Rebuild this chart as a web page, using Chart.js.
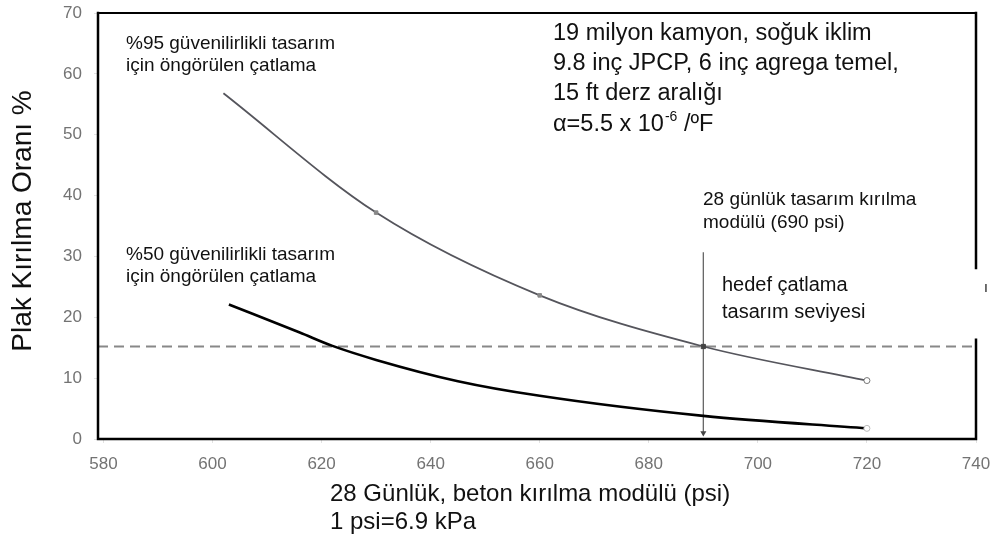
<!DOCTYPE html>
<html>
<head>
<meta charset="utf-8">
<script src="https://cdn.jsdelivr.net/npm/chart.js@4.4.1/dist/chart.umd.min.js"></script>
<style>
  html, body { margin: 0; padding: 0; background: #fff; }
  #chart { display: block; }
</style>
</head>
<body>
<canvas id="chart" width="1002" height="539"></canvas>
<script>
// modulus of rupture (psi) and predicted slab cracking (%)
const mor95 = [602, 630, 660, 690, 720]
const crack95 = [56.8, 37.2, 23.6, 15.2, 9.6]
const mor50 = [603, 616, 622, 630, 645, 660, 690, 720]
const crack50 = [22.1, 17.5, 15.3, 13.0, 9.5, 7.1, 3.8, 1.75]

const targetCrack = 15.2
const designMor = 690
const arrowTop = 30.7

const xTicks = [580, 600, 620, 640, 660, 680, 700, 720, 740]
const yTicks = [0, 10, 20, 30, 40, 50, 60, 70]

const FONT = '"Liberation Sans", Arial, sans-serif'

function pts(xs, ys) {
  return xs.map((x, i) => ({ x: x, y: ys[i] }))
}

// thick black frame round the plot, right side has a small break
const framePlugin = {
  id: 'frame',
  afterDatasetsDraw(chart) {
    const { ctx, chartArea: a, scales } = chart
    const gapTop = scales.y.getPixelForValue(28.1)
    const gapBottom = scales.y.getPixelForValue(16.3)
    ctx.save()
    ctx.strokeStyle = '#000'
    ctx.lineCap = 'square'
    ctx.lineWidth = 2
    ctx.beginPath()
    ctx.moveTo(a.left, a.top)
    ctx.lineTo(a.right, a.top)
    ctx.stroke()
    ctx.lineWidth = 2.5
    ctx.beginPath()
    ctx.moveTo(a.left, a.top)
    ctx.lineTo(a.left, a.bottom)
    ctx.lineTo(a.right, a.bottom)
    ctx.lineTo(a.right, gapBottom)
    ctx.moveTo(a.right, gapTop)
    ctx.lineTo(a.right, a.top)
    ctx.stroke()
    ctx.restore()
  }
}

// notes and axis titles
const notesPlugin = {
  id: 'notes',
  afterDraw(chart) {
    const ctx = chart.ctx
    ctx.save()
    ctx.fillStyle = '#111'
    ctx.textBaseline = 'middle'
    ctx.textAlign = 'left'

    ctx.font = '19px ' + FONT
    ctx.fillText('%95 güvenilirlikli tasarım', 126, 44)
    ctx.fillText('için öngörülen çatlama', 126, 66)
    ctx.fillText('%50 güvenilirlikli tasarım', 126, 255)
    ctx.fillText('için öngörülen çatlama', 126, 277)
    ctx.fillText('28 günlük tasarım kırılma', 703, 200)
    ctx.fillText('modülü (690 psi)', 703, 223)
    ctx.font = '20px ' + FONT
    ctx.fillText('hedef çatlama', 722, 285)
    ctx.fillText('tasarım seviyesi', 722, 312)

    ctx.font = '23.5px ' + FONT
    ctx.fillText('19 milyon kamyon, soğuk iklim', 553, 34)
    ctx.fillText('9.8 inç JPCP, 6 inç agrega temel,', 553, 64)
    ctx.fillText('15 ft derz aralığı', 553, 94)
    let s = 'α=5.5 x 10'
    ctx.fillText(s, 553, 125)
    let x = 553 + ctx.measureText(s).width
    ctx.font = '14px ' + FONT
    ctx.fillText('-6', x + 1, 117)
    x += ctx.measureText('-6').width + 1
    ctx.font = '23.5px ' + FONT
    ctx.fillText(' /ºF', x, 125)

    ctx.font = '24px ' + FONT
    ctx.fillText('28 Günlük, beton kırılma modülü (psi)', 330, 494)
    ctx.fillText('1 psi=6.9 kPa', 330, 522)

    ctx.font = '14px ' + FONT
    ctx.fillText('ı', 984, 288)

    ctx.translate(23, 221)
    ctx.rotate(-Math.PI / 2)
    ctx.textAlign = 'center'
    ctx.font = '28px ' + FONT
    ctx.fillText('Plak Kırılma Oranı %', 0, 0)
    ctx.restore()
  }
}

const tickFont = { family: FONT, size: 17 }

new Chart(document.getElementById('chart').getContext('2d'), {
  type: 'line',
  data: {
    datasets: [
      {
        label: '%95',
        data: pts(mor95, crack95),
        borderColor: '#55555c',
        borderWidth: 1.8,
        cubicInterpolationMode: 'monotone',
        pointRadius: [0, 2.5, 2.5, 3, 3],
        pointStyle: ['circle', 'rect', 'rect', 'rect', 'circle'],
        pointBackgroundColor: ['#666', '#888', '#888', '#444', '#fff'],
        pointBorderColor: ['#666', '#888', '#888', '#444', '#777'],
        pointBorderWidth: 1
      },
      {
        label: '%50',
        data: pts(mor50, crack50),
        borderColor: '#000',
        borderWidth: 2.6,
        cubicInterpolationMode: 'monotone',
        pointRadius: [0, 0, 0, 0, 0, 0, 0, 3],
        pointBackgroundColor: '#fff',
        pointBorderColor: '#bbb',
        pointBorderWidth: 1
      },
      {
        label: 'hedef',
        data: [{ x: 579, y: targetCrack }, { x: 740, y: targetCrack }],
        borderColor: '#888',
        borderWidth: 2,
        borderDash: [10, 6],
        pointRadius: 0
      },
      {
        label: '690 psi',
        data: [{ x: designMor, y: arrowTop }, { x: designMor, y: 1.0 }],
        borderColor: '#666',
        borderWidth: 1.3,
        pointRadius: [0, 3.5],
        pointStyle: 'triangle',
        rotation: 180,
        pointBackgroundColor: '#444',
        pointBorderColor: '#444',
        pointBorderWidth: 0
      }
    ]
  },
  options: {
    responsive: false,
    animation: false,
    devicePixelRatio: 1,
    layout: { padding: { top: 13, right: 26, left: 0, bottom: 0 } },
    plugins: {
      legend: { display: false },
      tooltip: { enabled: false }
    },
    scales: {
      x: {
        type: 'linear',
        min: 579,
        max: 740,
        afterBuildTicks: (scale) => { scale.ticks = xTicks.map(v => ({ value: v })) },
        afterFit: (scale) => { scale.height = 100 },
        border: { display: false },
        grid: { drawOnChartArea: false, tickLength: 4, color: '#e2e2e2' },
        ticks: { color: '#737373', font: tickFont, padding: 11, maxRotation: 0 }
      },
      y: {
        min: 0,
        max: 70,
        afterBuildTicks: (scale) => { scale.ticks = yTicks.map(v => ({ value: v })) },
        afterFit: (scale) => {
          scale.width = 98
          scale.paddingTop = 0
          scale.paddingBottom = 0
        },
        border: { display: false },
        grid: { drawOnChartArea: false, tickLength: 4, color: '#e2e2e2' },
        ticks: { color: '#737373', font: tickFont, padding: 12 }
      }
    }
  },
  plugins: [framePlugin, notesPlugin]
})
</script>
</body>
</html>
